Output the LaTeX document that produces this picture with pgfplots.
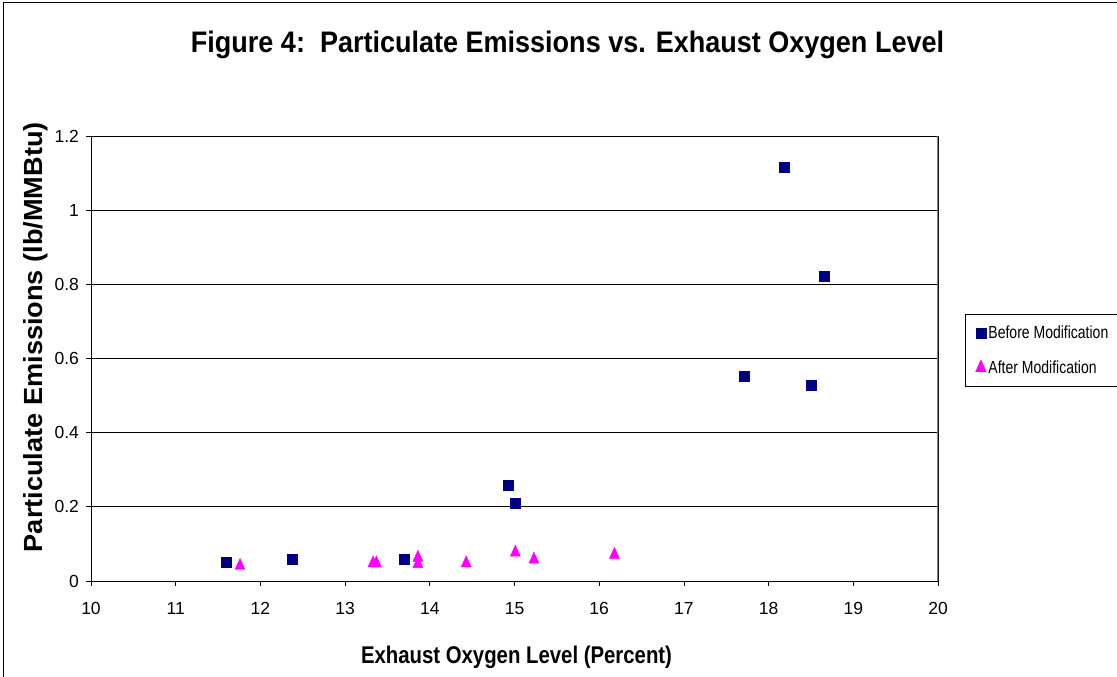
\documentclass[border=0pt]{standalone}
\usepackage{fontspec}
\setmainfont{Liberation Sans}
\usepackage{graphicx}
\usepackage{pgfplots}
\pgfplotsset{compat=1.18}
\definecolor{navyb}{RGB}{0,0,128}
\definecolor{magt}{RGB}{255,0,255}
\newcommand\legtext[1]{\makebox[135bp][l]{\scalebox{0.8}[1]{\fontsize{17.5bp}{17.5bp}\selectfont #1}}}

\pgfplotstableread{
x y
11.60 0.050
12.37 0.059
13.70 0.059
14.92 0.259
15.01 0.209
17.71 0.551
18.18 1.116
18.50 0.529
18.66 0.821
}\before

\pgfplotstableread{
x y
11.76 0.041
13.33 0.048
13.37 0.048
13.86 0.063
13.86 0.046
14.43 0.048
15.01 0.077
15.23 0.058
16.18 0.071
}\after

\begin{document}
\begin{tikzpicture}
\begin{axis}[
  scale only axis, width=847bp, height=445bp,
  xmin=10, xmax=20, ymin=0, ymax=1.2,
  xtick={10,11,...,20}, ytick={0,0.2,0.4,0.6,0.8,1,1.2},
  tick align=outside, xtick pos=bottom, ytick pos=left,
  major tick length=5bp,
  ymajorgrids, grid style={black, line width=0.8bp},
  axis line style={black, line width=0.8bp},
  tick style={black, line width=0.8bp},
  /pgf/number format/assume math mode=true,
  ticklabel style={font=\fontsize{17.5bp}{19bp}\selectfont},
  xticklabel style={yshift=-13bp},
  yticklabel style={xshift=-3.5bp},
  title={\resizebox{753bp}{21.5bp}{\bfseries Figure 4:\ \ Particulate Emissions vs. Exhaust Oxygen Level}},
  title style={at={(axis description cs:0.5626,1.1753)}, anchor=base, inner sep=0pt},
  xlabel={\resizebox{311bp}{17.5bp}{\bfseries Exhaust Oxygen Level (Percent)}},
  xlabel style={at={(axis description cs:0.5024,-0.1865)}, anchor=base, inner sep=0pt},
  ylabel={\resizebox{430bp}{19bp}{\bfseries Particulate Emissions (lb/MMBtu)}},
  ylabel style={at={(axis description cs:-0.0567,0.548)}, anchor=base, inner sep=0pt},
  legend image code/.code={\draw plot coordinates {(0bp,0bp)};},
  legend style={at={(axis description cs:1.0319,0.6)}, anchor=north west,
    draw=black, line width=0.8bp, inner xsep=10.5bp, inner ysep=11.8bp,
    row sep=20bp, column sep=2.5bp,
    nodes={inner sep=0pt, anchor=west}},
  legend cell align=left,
]
\addplot[only marks, mark=square*, mark size=5bp, color=navyb, fill=navyb] table {\before};
\addlegendentry{\legtext{Before Modification}}
\addplot[only marks, mark=triangle*, mark size=5.8bp, color=magt, fill=magt, mark options={yscale=1.27}] table {\after};
\addlegendentry{\legtext{After Modification}}
\draw[gray, line width=1.5bp] (rel axis cs:1,0) -- (rel axis cs:1,1);
\end{axis}
\draw[black, line width=0.8bp] (-88bp,-120bp) -- (-88bp,578.5bp) -- (1060bp,578.5bp);
\pgfresetboundingbox
\path[use as bounding box] (-91bp,-96bp) rectangle (1026bp,581bp);
\end{tikzpicture}
\end{document}
